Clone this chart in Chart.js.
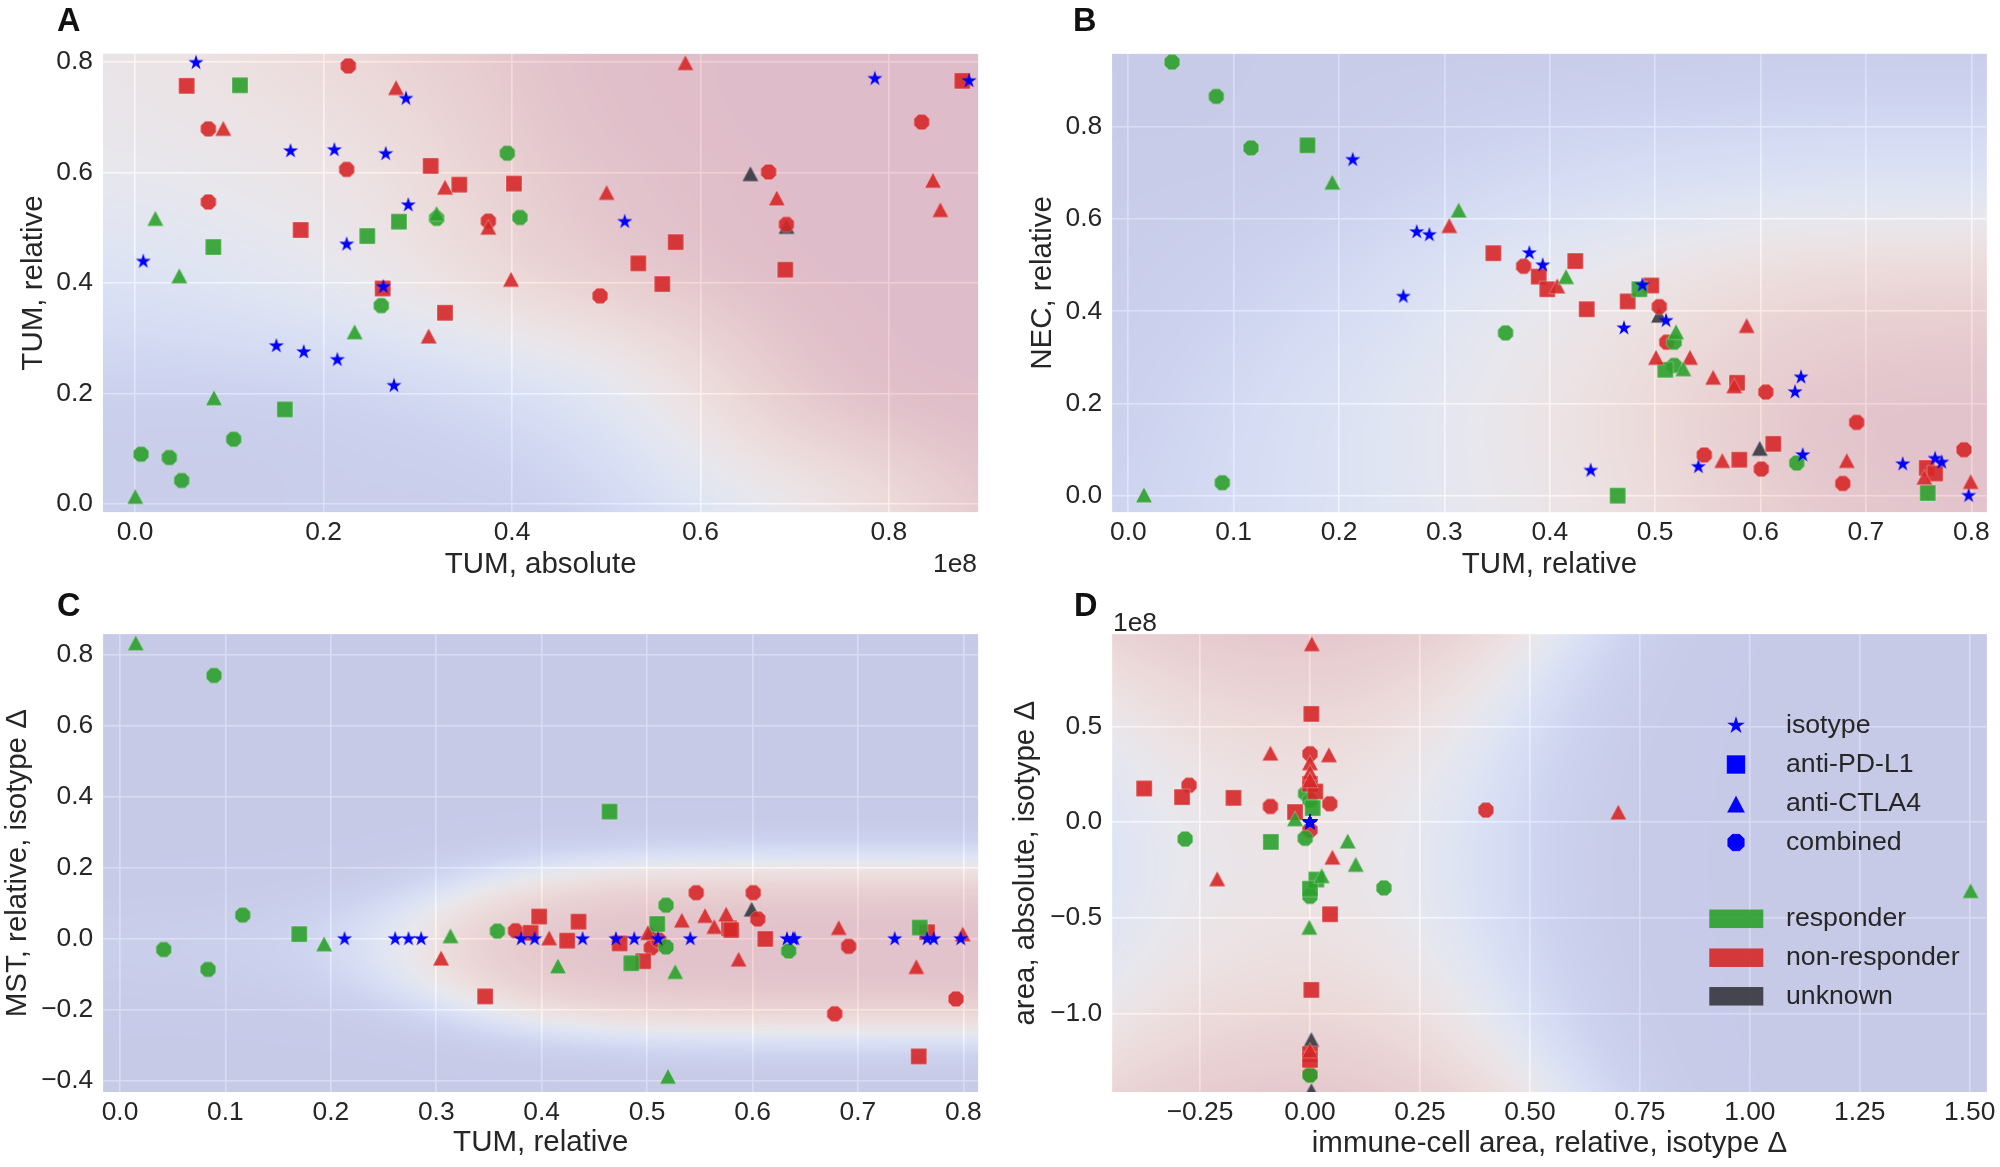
<!DOCTYPE html>
<html>
<head>
<meta charset="utf-8">
<title>Responder classification maps</title>
<script src="https://cdn.jsdelivr.net/npm/chart.js@4.4.1/dist/chart.umd.min.js"></script>
<style>
  html, body { margin:0; padding:0; background:#ffffff; }
  body { position:relative; width:2000px; height:1167px; overflow:hidden; }
  canvas { position:absolute; }
</style>
</head>
<body>
<canvas id="panelA"></canvas>
<canvas id="panelB"></canvas>
<canvas id="panelC"></canvas>
<canvas id="panelD"></canvas>
<script>
// ======================= DATA =======================
// Panel A : x = TUM, absolute (1e8), y = TUM, relative
const A_iso      = [[0.0647,0.799],[0.0088,0.439],[0.165,0.639],[0.2115,0.641],[0.266,0.634],[0.2875,0.734],[0.290,0.541],[0.2246,0.470],[0.2635,0.393],[0.150,0.286],[0.179,0.275],[0.2147,0.261],[0.2748,0.214],[0.5196,0.511],[0.785,0.770],[0.885,0.766]];
const A_pdl1_R   = [[0.1114,0.758],[0.0831,0.465],[0.159,0.171],[0.2465,0.485],[0.280,0.511]];
const A_pdl1_NR  = [[0.0548,0.757],[0.1758,0.496],[0.3137,0.612],[0.3441,0.578],[0.2628,0.390],[0.3289,0.346],[0.4021,0.580],[0.534,0.4355],[0.5737,0.474],[0.5595,0.398],[0.690,0.424],[0.8778,0.766]];
const A_ctla4_R  = [[0.0216,0.517],[0.047,0.413],[0.0838,0.192],[0.0003,0.0134],[0.233,0.3115],[0.320,0.526]];
const A_ctla4_NR = [[0.0937,0.680],[0.277,0.754],[0.329,0.5735],[0.3749,0.501],[0.3116,0.304],[0.399,0.4067],[0.5004,0.564],[0.584,0.799],[0.681,0.554],[0.8467,0.586],[0.8545,0.5327]];
const A_ctla4_U  = [[0.653,0.598],[0.6913,0.5025]];
const A_comb_R   = [[0.0064,0.0898],[0.0364,0.0838],[0.0495,0.0422],[0.1047,0.117],[0.2613,0.359],[0.320,0.517],[0.395,0.635],[0.4085,0.5186]];
const A_comb_NR  = [[0.2263,0.793],[0.0778,0.679],[0.0778,0.5467],[0.2246,0.6057],[0.3749,0.512],[0.4934,0.3765],[0.6723,0.601],[0.6912,0.506],[0.8347,0.6915]];

// Panel B : x = TUM, relative, y = NEC, relative
const B_iso      = [[0.213,0.7287],[0.2737,0.572],[0.2857,0.5657],[0.261,0.432],[0.3806,0.5265],[0.3933,0.500],[0.4704,0.3635],[0.4878,0.4567],[0.5103,0.3796],[0.6384,0.2569],[0.6327,0.2248],[0.4388,0.0546],[0.541,0.0626],[0.640,0.0883],[0.7349,0.0684],[0.7656,0.0804],[0.7719,0.0722],[0.7975,0.0]];
const B_pdl1_R   = [[0.170,0.760],[0.485,0.4478],[0.5096,0.273],[0.4644,0.0],[0.7586,0.0058]];
const B_pdl1_NR  = [[0.3464,0.526],[0.3895,0.4752],[0.3976,0.4478],[0.4242,0.5089],[0.435,0.4044],[0.4963,0.4559],[0.4739,0.4213],[0.5777,0.2448],[0.5798,0.078],[0.6121,0.1124],[0.7577,0.0602],[0.7656,0.0481]];
const B_ctla4_R  = [[0.1936,0.680],[0.3135,0.6196],[0.0149,0.0017],[0.4154,0.4752],[0.5198,0.3556],[0.5267,0.2754]];
const B_ctla4_NR = [[0.3046,0.586],[0.4071,0.455],[0.5008,0.300],[0.533,0.300],[0.555,0.2569],[0.575,0.2383],[0.5868,0.369],[0.5637,0.0763],[0.6818,0.0763],[0.7554,0.0402],[0.7994,0.0306]];
const B_ctla4_U  = [[0.5036,0.3917],[0.5992,0.1028]];
const B_comb_R   = [[0.0415,0.9405],[0.0835,0.866],[0.1164,0.7544],[0.358,0.353],[0.0892,0.028],[0.518,0.333],[0.518,0.2826],[0.6343,0.0708]];
const B_comb_NR  = [[0.3752,0.4976],[0.5039,0.410],[0.511,0.333],[0.605,0.2248],[0.5466,0.0883],[0.6007,0.0578],[0.6912,0.1589],[0.678,0.0265],[0.793,0.0997]];

// Panel C : x = TUM, relative, y = MST, relative, isotype delta
const C_iso      = [[0.213,0],[0.261,0],[0.2737,0],[0.2857,0],[0.3806,0],[0.3933,0],[0.4388,0],[0.4704,0],[0.4878,0],[0.5103,0],[0.541,0],[0.6327,0],[0.6384,0],[0.640,0],[0.7349,0],[0.7656,0],[0.7719,0],[0.7975,0]];
const C_pdl1_R   = [[0.170,0.0135],[0.4644,0.3585],[0.485,-0.0685],[0.5096,0.042],[0.7586,0.032]];
const C_pdl1_NR  = [[0.3464,-0.162],[0.3895,0.017],[0.3976,0.063],[0.4242,-0.005],[0.435,0.0485],[0.4739,-0.0127],[0.4963,-0.063],[0.5777,0.030],[0.5798,0.025],[0.6121,0.0],[0.7577,-0.331],[0.7656,0.019]];
const C_ctla4_R  = [[0.0149,0.834],[0.1936,-0.014],[0.3135,0.009],[0.4154,-0.076],[0.5267,-0.092],[0.5198,-0.387]];
const C_ctla4_NR = [[0.3046,-0.054],[0.4071,0.003],[0.5008,0.018],[0.533,0.0527],[0.555,0.066],[0.575,0.070],[0.5868,-0.057],[0.5637,0.035],[0.6818,0.032],[0.7554,-0.078],[0.7994,0.014]];
const C_ctla4_U  = [[0.5036,0.019],[0.5992,0.084]];
const C_comb_R   = [[0.0415,-0.030],[0.0835,-0.086],[0.1164,0.067],[0.0892,0.742],[0.358,0.022],[0.518,0.095],[0.518,-0.023],[0.6343,-0.034]];
const C_comb_NR  = [[0.3752,0.023],[0.5039,-0.025],[0.511,-0.003],[0.5466,0.130],[0.6007,0.130],[0.605,0.056],[0.6912,-0.021],[0.678,-0.211],[0.793,-0.169]];

// Panel D : x = immune-cell area, relative, isotype delta ; y = area, absolute, isotype delta (1e8)
const D_iso      = [[0,0],[0,0],[0,0],[0,0],[0,0],[0,0],[0,0],[0,0],[0,0],[0,0],[0,0],[0,0],[0,0],[0,0],[0,0],[0,0],[0,0],[0,0]];
const D_pdl1_R   = [[0.006,0.074],[-0.089,-0.103],[0.0144,-0.299],[0.0,-0.347]];
const D_pdl1_NR  = [[0.003,0.565],[-0.377,0.176],[-0.291,0.131],[-0.174,0.127],[-0.034,0.053],[0.0,0.20],[0.012,0.16],[0.0455,-0.480],[0.003,-0.875],[0.0,-1.21],[0.0,-1.24]];
const D_ctla4_R  = [[-0.034,0.018],[0.0857,-0.098],[0.104,-0.220],[0.0265,-0.279],[-0.0015,-0.548],[1.502,-0.357]];
const D_ctla4_NR = [[0.004,0.931],[-0.090,0.361],[0.043,0.352],[0.0,0.31],[0.0,0.26],[0.0,0.22],[0.051,-0.182],[-0.211,-0.295],[0.701,0.053],[0.0,-1.19]];
const D_ctla4_U  = [[0.003,-1.134],[0.003,-1.40]];
const D_comb_R   = [[-0.01,0.15],[0.0,0.114],[-0.011,-0.084],[-0.284,-0.088],[0.0,-0.387],[0.168,-0.343],[0.0,-1.32]];
const D_comb_NR  = [[0.0,0.357],[-0.275,0.193],[-0.09,0.082],[0.045,0.096],[0.0,-0.041],[0.0,-1.315],[0.400,0.063]];

// Tick labels
const A_xticks = [0.0, 0.2, 0.4, 0.6, 0.8];
const A_yticks = [0.0, 0.2, 0.4, 0.6, 0.8];
const B_xticks = [0.0, 0.1, 0.2, 0.3, 0.4, 0.5, 0.6, 0.7, 0.8];
const B_yticks = [0.0, 0.2, 0.4, 0.6, 0.8];
const C_xticks = [0.0, 0.1, 0.2, 0.3, 0.4, 0.5, 0.6, 0.7, 0.8];
const C_yticks = [-0.4, -0.2, 0.0, 0.2, 0.4, 0.6, 0.8];
const D_xticks = [-0.25, 0.0, 0.25, 0.5, 0.75, 1.0, 1.25, 1.5];
const D_yticks = [-1.0, -0.5, 0.0, 0.5];

// Legend labels
const treatmentLabels = ['isotype', 'anti-PD-L1', 'anti-CTLA4', 'combined'];
const responseLabels  = ['responder', 'non-responder', 'unknown'];

// ======================= STYLE =======================
const FONT = '"Liberation Sans", Arial, Helvetica, sans-serif';
const TXT = '#262626';
const TITLE_FS = 29.5;
const TICK_FS = 26.4;
const LEGEND_FS = 26.7;
const COL = {
  iso: '#0000ff',
  R:   'rgba(44,160,44,0.9)',
  NR:  'rgba(214,39,40,0.9)',
  U:   'rgba(50,50,58,0.88)'
};

// coolwarm colormap anchors
const CW = [[59,76,192],[96,128,232],[141,176,254],[184,208,249],[221,221,221],[245,196,173],[244,154,123],[222,96,77],[180,4,38]];
function coolwarm(p){
  p = Math.min(1, Math.max(0, p));
  const f = p * 8, i = Math.min(7, Math.floor(f)), t = f - i;
  const a = CW[i], b = CW[i+1];
  return [a[0]+(b[0]-a[0])*t, a[1]+(b[1]-a[1])*t, a[2]+(b[2]-a[2])*t];
}
const sig = z => 1/(1+Math.exp(-z));
function cr(p0,p1,p2,p3,t){ return 0.5*((2*p1)+(-p0+p2)*t+(2*p0-5*p1+4*p2-p3)*t*t+(-p0+3*p1-3*p2+p3)*t*t*t); }
function gridSurface(x0, dx, y0, dy, G){
  const ny = G.length, nx = G[0].length;
  const g = (i,j) => G[Math.max(0,Math.min(ny-1,j))][Math.max(0,Math.min(nx-1,i))];
  return (x,y) => {
    let fx = Math.max(0, Math.min(nx-1.0001, (x-x0)/dx));
    let fy = Math.max(0, Math.min(ny-1.0001, (y-y0)/dy));
    const i = Math.floor(fx), j = Math.floor(fy), tx = fx-i, ty = fy-j;
    const r = [];
    for (let m=-1; m<=2; m++) r.push(cr(g(i-1,j+m), g(i,j+m), g(i+1,j+m), g(i+2,j+m), tx));
    return cr(r[0], r[1], r[2], r[3], ty);
  };
}
// classifier background surfaces (probability of non-responder)
const surfA = gridSurface(-0.05, 0.25, -0.05, 0.225, [
  [0.04,0.04,0.08,0.50,0.95],
  [0.07,0.10,0.30,0.86,1.00],
  [0.30,0.45,0.80,0.98,1.00],
  [0.50,0.62,0.92,1.00,1.00],
  [0.57,0.75,0.96,1.00,1.00]]);
const surfB = gridSurface(-0.05, 0.225, -0.05, 0.25, [
  [0.10,0.30,0.58,0.88,0.95],
  [0.06,0.28,0.60,0.90,0.95],
  [0.03,0.17,0.48,0.74,0.80],
  [0.02,0.05,0.20,0.30,0.32],
  [0.00,0.02,0.03,0.05,0.05]]);
const surfC = (x,y) => { const B = -3.2 + 6.4*sig((x-0.27)/0.07); const d = (y+0.025)/0.23; return sig(B - 3*d*d); };
const surfD = (x,y) => { const u = x+0.02, v = y+0.22; const b = u > 0 ? 8 : 5.4; return sig(0.4 + 1.4*v*v - b*u*u); };

// ======================= MARKERS =======================
function shapePath(g, shape, cx, cy, d){
  g.beginPath();
  if (shape === 'star'){
    const R = d.r, r = R*0.382;
    for (let k=0; k<10; k++){
      const a = -Math.PI/2 + k*Math.PI/5, rr = (k%2===0) ? R : r;
      const px = cx + rr*Math.cos(a), py = cy + rr*Math.sin(a);
      k===0 ? g.moveTo(px,py) : g.lineTo(px,py);
    }
  } else if (shape === 'square'){
    g.rect(cx-d.s/2, cy-d.s/2, d.s, d.s);
  } else if (shape === 'triangle'){
    g.moveTo(cx, cy-d.h/2); g.lineTo(cx+d.w/2, cy+d.h/2); g.lineTo(cx-d.w/2, cy+d.h/2);
  } else if (shape === 'octagon'){
    for (let k=0; k<8; k++){
      const a = Math.PI/8 + k*Math.PI/4;
      const px = cx + d.rx*Math.cos(a)/Math.cos(Math.PI/8), py = cy + d.ry*Math.sin(a)/Math.cos(Math.PI/8);
      k===0 ? g.moveTo(px,py) : g.lineTo(px,py);
    }
  }
  g.closePath();
}
const SIZE_PLOT   = { star:{r:7.9}, square:{s:16}, triangle:{w:16.5,h:15.5}, octagon:{rx:7.8,ry:7.8} };
const SIZE_LEGEND = { star:{r:9.3}, square:{s:18.8}, triangle:{w:18.5,h:17.5}, octagon:{rx:8.8,ry:8.8} };
function drawMarker(g, shape, color, cx, cy, sizes){
  shapePath(g, shape, cx, cy, sizes[shape]);
  g.fillStyle = color; g.fill();
  if (shape !== 'star'){ g.strokeStyle = 'rgba(255,255,255,0.35)'; g.lineWidth = 0.9; g.stroke(); }
}
function sprite(shape, color){
  const S = 24, c = document.createElement('canvas');
  c.width = S; c.height = S;
  drawMarker(c.getContext('2d'), shape, color, S/2, S/2, SIZE_PLOT);
  return c;
}

function datasetsFor(d){
  const mk = (arr, shape, color, order, label) => ({
    label, order, clip: 0,
    data: arr.map(p => ({x:p[0], y:p[1]})),
    pointStyle: sprite(shape, color), pointRadius: 8, pointHoverRadius: 8, showLine: false
  });
  return [
    mk(d.iso,     'star',     COL.iso, 0, 'isotype'),
    mk(d.ctla4_R, 'triangle', COL.R,   1, 'anti-CTLA4 responder'),
    mk(d.ctla4_NR,'triangle', COL.NR,  1, 'anti-CTLA4 non-responder'),
    mk(d.pdl1_R,  'square',   COL.R,   2, 'anti-PD-L1 responder'),
    mk(d.pdl1_NR, 'square',   COL.NR,  2, 'anti-PD-L1 non-responder'),
    mk(d.comb_R,  'octagon',  COL.R,   3, 'combined responder'),
    mk(d.comb_NR, 'octagon',  COL.NR,  3, 'combined non-responder'),
    mk(d.ctla4_U, 'triangle', COL.U,   4, 'anti-CTLA4 unknown')
  ];
}

// ======================= PANELS =======================
const PANELS = [
  { id:'panelA', letter:'A', canvas:[0,0,1000,590], plot:[103,53.6,978.3,512.3], xTitleCY:564.5, yTitleCX:34.2,
    xr:[-0.03395,0.8948], yr:[-0.0154,0.8154], xt:A_xticks, yt:A_yticks, xdec:1, ydec:1,
    xlabel:'TUM, absolute', ylabel:'TUM, relative', surf:surfA,
    offsetText:{text:'1e8', x:977, y:571.5, align:'right'},
    data:{iso:A_iso,pdl1_R:A_pdl1_R,pdl1_NR:A_pdl1_NR,ctla4_R:A_ctla4_R,ctla4_NR:A_ctla4_NR,ctla4_U:A_ctla4_U,comb_R:A_comb_R,comb_NR:A_comb_NR} },
  { id:'panelB', letter:'B', canvas:[1000,0,1000,590], plot:[1112.3,53.6,1986.7,512.3], xTitleCY:564.5, yTitleCX:1042.6,
    xr:[-0.01518,0.8146], yr:[-0.0361,0.9589], xt:B_xticks, yt:B_yticks, xdec:1, ydec:1,
    xlabel:'TUM, relative', ylabel:'NEC, relative', surf:surfB,
    data:{iso:B_iso,pdl1_R:B_pdl1_R,pdl1_NR:B_pdl1_NR,ctla4_R:B_ctla4_R,ctla4_NR:B_ctla4_NR,ctla4_U:B_ctla4_U,comb_R:B_comb_R,comb_NR:B_comb_NR} },
  { id:'panelC', letter:'C', canvas:[0,590,1000,577], plot:[103.3,634.3,978.3,1092.1], xTitleCY:1143, yTitleCX:17.6,
    xr:[-0.01584,0.8142], yr:[-0.4316,0.858], xt:C_xticks, yt:C_yticks, xdec:1, ydec:1,
    xlabel:'TUM, relative', ylabel:'MST, relative, isotype \u0394', surf:surfC,
    data:{iso:C_iso,pdl1_R:C_pdl1_R,pdl1_NR:C_pdl1_NR,ctla4_R:C_ctla4_R,ctla4_NR:C_ctla4_NR,ctla4_U:C_ctla4_U,comb_R:C_comb_R,comb_NR:C_comb_NR} },
  { id:'panelD', letter:'D', canvas:[1000,590,1000,577], plot:[1112.3,634.3,1986.7,1092.1], xTitleCY:1144, yTitleCX:1026.3,
    xr:[-0.4495,1.5386], yr:[-1.4082,0.9803], xt:D_xticks, yt:D_yticks, xdec:2, ydec:1,
    xlabel:'immune-cell area, relative, isotype \u0394', ylabel:'area, absolute, isotype \u0394', surf:surfD,
    offsetText:{text:'1e8', x:1113, y:630.5, align:'left'}, legend:true,
    data:{iso:D_iso,pdl1_R:D_pdl1_R,pdl1_NR:D_pdl1_NR,ctla4_R:D_ctla4_R,ctla4_NR:D_ctla4_NR,ctla4_U:D_ctla4_U,comb_R:D_comb_R,comb_NR:D_comb_NR} }
];

const LEGEND_LAYOUT = { markerX:1736, markerRows:[725.5,764.5,804,842.5], patchX:1709.3, patchW:54, patchH:18.5, patchRows:[918.8,957.7,996.3], textX:1786 };
const LETTER_POS = { A:[57,31.4], B:[1073,31.4], C:[57,615.6], D:[1074,615.6] };

const bgPlugin = {
  id:'bgfill',
  beforeDraw(chart){
    const a = chart.chartArea, c = chart.ctx;
    c.save(); c.fillStyle = '#EAEAF2'; c.fillRect(a.left, a.top, a.right-a.left, a.bottom-a.top); c.restore();
  }
};
const surfacePlugin = {
  id:'surface',
  beforeDatasetsDraw(chart){
    const P = chart.$panel, a = chart.chartArea;
    const w = Math.round(a.right - a.left), h = Math.round(a.bottom - a.top);
    if (!chart.$surf){
      const off = document.createElement('canvas'); off.width = w; off.height = h;
      const og = off.getContext('2d'), img = og.createImageData(w, h);
      const xs = chart.scales.x, ys = chart.scales.y;
      for (let j=0; j<h; j++){
        const yv = ys.getValueForPixel(a.top + j + 0.5);
        for (let i=0; i<w; i++){
          const xv = xs.getValueForPixel(a.left + i + 0.5);
          const c = coolwarm(P.surf(xv, yv));
          const k = (j*w + i)*4;
          img.data[k] = c[0]; img.data[k+1] = c[1]; img.data[k+2] = c[2]; img.data[k+3] = 51;
        }
      }
      og.putImageData(img, 0, 0);
      chart.$surf = off;
    }
    chart.ctx.drawImage(chart.$surf, a.left, a.top, a.right - a.left, a.bottom - a.top);
  }
};
const extrasPlugin = {
  id:'extras',
  afterDraw(chart){
    const P = chart.$panel, g = chart.ctx, cl = P.canvas[0], ct = P.canvas[1];
    g.save();
    const lp = LETTER_POS[P.letter];
    g.fillStyle = '#111111'; g.font = 'bold 32.5px ' + FONT; g.textAlign = 'left'; g.textBaseline = 'alphabetic';
    g.fillText(P.letter, lp[0]-cl, lp[1]-ct);
    if (P.offsetText){
      g.fillStyle = TXT; g.font = TICK_FS + 'px ' + FONT; g.textAlign = P.offsetText.align;
      g.fillText(P.offsetText.text, P.offsetText.x-cl, P.offsetText.y-ct);
    }
    if (P.legend){
      const L = LEGEND_LAYOUT, shapes = ['star','square','triangle','octagon'];
      g.font = LEGEND_FS + 'px ' + FONT; g.textAlign = 'left'; g.textBaseline = 'middle';
      treatmentLabels.forEach((lab, i) => {
        drawMarker(g, shapes[i], COL.iso, L.markerX-cl, L.markerRows[i]-ct, SIZE_LEGEND);
        g.fillStyle = TXT; g.fillText(lab, L.textX-cl, L.markerRows[i]-ct);
      });
      const pc = [COL.R, COL.NR, COL.U];
      responseLabels.forEach((lab, i) => {
        g.fillStyle = pc[i];
        g.fillRect(L.patchX-cl, L.patchRows[i]-ct-L.patchH/2, L.patchW, L.patchH);
        g.fillStyle = TXT; g.fillText(lab, L.textX-cl, L.patchRows[i]-ct);
      });
    }
    g.restore();
  }
};

Chart.register({ id:'panelRef', beforeInit(chart){ chart.$panel = PANELS.find(p => p.id === chart.canvas.id); chart.$surf = null; } });

function buildPanel(P){
  const cv = document.getElementById(P.id);
  const [cl, ct, cw, ch] = P.canvas;
  cv.width = cw; cv.height = ch;
  cv.style.left = cl + 'px'; cv.style.top = ct + 'px';
  const [l, t, r, b] = P.plot;
  const yAxisLeft = P.yTitleCX - TITLE_FS/2, xAxisBottom = P.xTitleCY + TITLE_FS/2;
  const yW = l - yAxisLeft, xH = xAxisBottom - b;
  const padding = { left: yAxisLeft - cl, top: t - ct, right: cl + cw - r, bottom: ct + ch - xAxisBottom };
  const fmt = dec => v => Number(v).toFixed(dec).replace('-', '\u2212');
  const zeroPad = s => { s.paddingLeft = 0; s.paddingRight = 0; s.paddingTop = 0; s.paddingBottom = 0; };
  const axisCommon = {
    type:'linear',
    grid:{ color:'#ffffff', lineWidth:1.6, drawTicks:false },
    border:{ display:false }
  };
  return new Chart(cv, {
    type:'scatter',
    data:{ datasets: datasetsFor(P.data) },
    options:{
      responsive:false, maintainAspectRatio:false, animation:false, devicePixelRatio:1, events:[],
      layout:{ padding, autoPadding:false },
      plugins:{ legend:{display:false}, tooltip:{enabled:false} },
      scales:{
        x: Object.assign({}, axisCommon, {
          position:'bottom', min:P.xr[0], max:P.xr[1],
          afterBuildTicks: s => { s.ticks = P.xt.map(v => ({value:v})); },
          afterFit: s => { s.height = xH; zeroPad(s); },
          ticks:{ callback: fmt(P.xdec), font:{family:FONT, size:TICK_FS}, color:TXT, padding:5, autoSkip:false, maxRotation:0, minRotation:0 },
          title:{ display:true, text:P.xlabel, font:{family:FONT, size:TITLE_FS, lineHeight:1}, color:TXT, padding:0 }
        }),
        y: Object.assign({}, axisCommon, {
          position:'left', min:P.yr[0], max:P.yr[1],
          afterBuildTicks: s => { s.ticks = P.yt.map(v => ({value:v})); },
          afterFit: s => { s.width = yW; zeroPad(s); },
          ticks:{ callback: fmt(P.ydec), font:{family:FONT, size:TICK_FS}, color:TXT, padding:10, autoSkip:false },
          title:{ display:true, text:P.ylabel, font:{family:FONT, size:TITLE_FS, lineHeight:1}, color:TXT, padding:0 }
        })
      }
    },
    plugins:[bgPlugin, surfacePlugin, extrasPlugin]
  });
}

PANELS.forEach(buildPanel);
</script>
</body>
</html>
